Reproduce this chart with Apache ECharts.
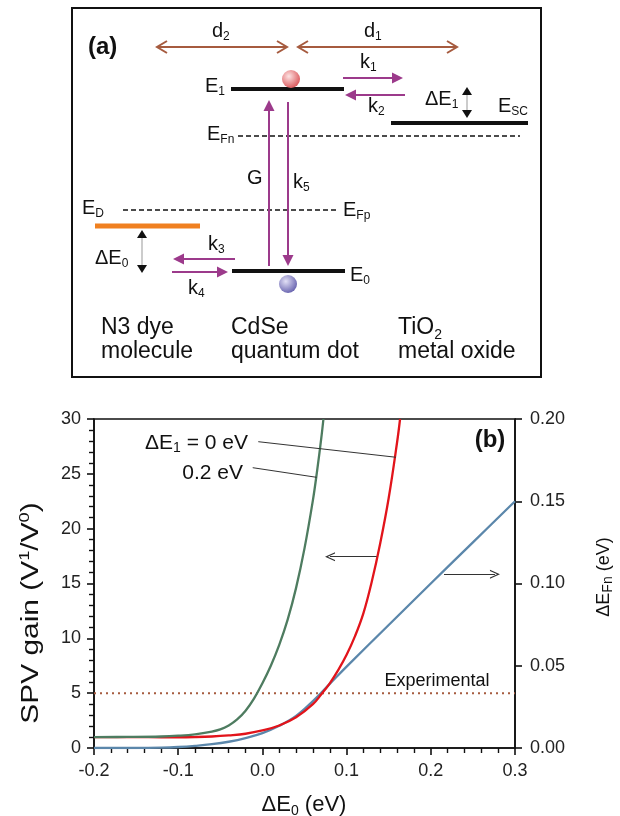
<!DOCTYPE html>
<html>
<head>
<meta charset="utf-8">
<script src="https://cdn.jsdelivr.net/npm/echarts@6/dist/echarts.min.js"></script>
<style>
  html, body { margin: 0; padding: 0; background: #fff; }
  #main { width: 620px; height: 816px; }
</style>
</head>
<body>
<div id="main"></div>
<script>
// ---- (b) SPV gain and quasi-Fermi level shift versus ΔE0 ----
// ΔE1 = 0 eV curve (left axis)
const dE0Zero = [-0.2, -0.15, -0.12, -0.1, -0.08, -0.06, -0.04, -0.02, 0, 0.02, 0.04, 0.06, 0.07, 0.08, 0.09, 0.1, 0.11, 0.12, 0.13, 0.14, 0.15, 0.16, 0.1635];
const gainZero = [1.0, 1.0, 0.98, 0.98, 1.0, 1.05, 1.15, 1.3, 1.6, 2.05, 2.8, 4.0, 4.9, 5.9, 7.1, 8.5, 10.2, 12.3, 15.2, 18.7, 22.8, 27.9, 30.0];
// ΔE1 = 0.2 eV curve (left axis)
const dE0Two = [-0.2, -0.16, -0.12, -0.1, -0.08, -0.06, -0.05, -0.04, -0.03, -0.02, -0.01, 0, 0.01, 0.02, 0.03, 0.04, 0.05, 0.06, 0.065, 0.07, 0.0725];
const gainTwo = [1.0, 1.01, 1.05, 1.12, 1.25, 1.5, 1.7, 2.05, 2.6, 3.4, 4.5, 5.9, 7.5, 9.4, 11.7, 14.6, 18.2, 22.6, 25.3, 28.3, 30.0];
// ΔE_Fn (right axis)
const dE0Fn = [-0.2, -0.15, -0.12, -0.1, -0.08, -0.06, -0.04, -0.02, 0, 0.02, 0.04, 0.06, 0.08, 0.1, 0.15, 0.2, 0.25, 0.3];
const shiftFn = [0, 0, 0.0002, 0.0006, 0.0013, 0.0023, 0.0038, 0.006, 0.009, 0.0135, 0.0195, 0.0285, 0.039, 0.0495, 0.0748, 0.1, 0.125, 0.15];
// measured SPV gain
const experimentalGain = 5;

const xTickLabels = ['-0.2', '-0.1', '0.0', '0.1', '0.2', '0.3'];
const leftTickLabels = ['0', '5', '10', '15', '20', '25', '30'];
const rightTickLabels = ['0.00', '0.05', '0.10', '0.15', '0.20'];

const X_MIN = -0.2, X_MAX = 0.3, X_STEP = 0.1;
const L_MIN = 0, L_MAX = 30, L_STEP = 5;
const R_MIN = 0, R_MAX = 0.2, R_STEP = 0.05;

const FONT = '"Liberation Sans", Arial, Helvetica, sans-serif';
const INK = '#111';
const PURPLE = '#9c3a8b';
const BROWN = '#a65b3f';

const zip = (xs, ys) => xs.map((x, i) => [x, ys[i]]);
const pick = (labels, min, step) => v => labels[Math.round((v - min) / step)] ?? '';

// leader lines and direction arrows, in data units
const leaderZero = [[-0.0049, 27.93], [0.1587, 26.51]];
const leaderTwo = [[-0.0115, 25.56], [0.0645, 24.68]];
const arrowLeft = [[0.1357, 17.44], [0.0803, 17.44]];
const arrowRight = [[0.2157, 0.1056], [0.2762, 0.1056]];
const CHEVRON = 'path://M0,10 L5,0 L10,10 L8.6,10 L5,2.8 L1.4,10 Z';

// ---- helpers for the level diagram ----
const rich = {
  s: { fontSize: 12, lineHeight: 12, verticalAlign: 'bottom', fill: INK, fontFamily: FONT },
  s2: { fontSize: 14, lineHeight: 14, verticalAlign: 'bottom', fill: INK, fontFamily: FONT },
  sup: { fontSize: 14, lineHeight: 14, verticalAlign: 'top', fill: INK, fontFamily: FONT }
};
function txt(x, y, text, size, extra) {
  return Object.assign({
    type: 'text', x: x, y: y, silent: true, z: 10,
    style: Object.assign({
      text: text, fill: INK, fontSize: size, fontFamily: FONT,
      lineHeight: Math.round(size * 1.2), align: 'left', verticalAlign: 'middle', rich: rich
    }, (extra && extra.style) || {})
  }, extra ? { rotation: extra.rotation || 0, scaleX: extra.scaleX || 1 } : {});
}
function seg(x1, y1, x2, y2, color, width, dash) {
  return {
    type: 'line', silent: true, z: 5,
    shape: { x1: x1, y1: y1, x2: x2, y2: y2 },
    style: { stroke: color, lineWidth: width, lineDash: dash || null }
  };
}
function head(tx, ty, ux, uy, len, half, color, filled) {
  const bx = tx - ux * len, by = ty - uy * len;
  const nx = -uy, ny = ux;
  const pts = [[bx + nx * half, by + ny * half], [tx, ty], [bx - nx * half, by - ny * half]];
  return filled
    ? { type: 'polygon', silent: true, z: 6, shape: { points: pts }, style: { fill: color } }
    : { type: 'polyline', silent: true, z: 6, shape: { points: pts }, style: { stroke: color, lineWidth: 2, fill: null } };
}
function arrow(x1, y1, x2, y2, color, opt) {
  const o = Object.assign({ width: 2, len: 11, half: 5.5, filled: true, both: false, midColor: null, midWidth: null }, opt || {});
  const L = Math.hypot(x2 - x1, y2 - y1), ux = (x2 - x1) / L, uy = (y2 - y1) / L;
  const out = [];
  const sx = o.both && o.filled ? x1 + ux * o.len * 0.8 : x1;
  const sy = o.both && o.filled ? y1 + uy * o.len * 0.8 : y1;
  const ex = o.filled ? x2 - ux * o.len * 0.8 : x2;
  const ey = o.filled ? y2 - uy * o.len * 0.8 : y2;
  out.push(seg(sx, sy, ex, ey, o.midColor || color, o.midWidth || o.width));
  out.push(head(x2, y2, ux, uy, o.len, o.half, color, o.filled));
  if (o.both) out.push(head(x1, y1, -ux, -uy, o.len, o.half, color, o.filled));
  return out;
}
function ball(cx, cy, light, dark) {
  return {
    type: 'circle', silent: true, z: 7,
    shape: { cx: cx, cy: cy, r: 9 },
    style: { fill: new echarts.graphic.RadialGradient(0.38, 0.35, 0.75, [
      { offset: 0, color: light }, { offset: 1, color: dark }]) }
  };
}

// ---- panel (a): energy level scheme ----
const diagram = [
  { type: 'rect', silent: true, z: 4, shape: { x: 72, y: 8, width: 469, height: 369 }, style: { stroke: INK, lineWidth: 2, fill: null } },
  txt(88, 47, '(a)', 24, { style: { fontWeight: 'bold' } }),
  // separations
  ...arrow(157, 47, 287, 47, BROWN, { filled: false, both: true, len: 10, half: 6 }),
  ...arrow(298, 47, 457, 47, BROWN, { filled: false, both: true, len: 10, half: 6 }),
  txt(212, 31, 'd{s|2}', 20),
  txt(364, 31, 'd{s|1}', 20),
  // levels
  seg(231, 89, 344, 89, INK, 4),
  seg(391, 123, 528, 123, INK, 4),
  seg(232, 271, 345, 271, INK, 4),
  seg(95, 226, 200, 226, '#f08020', 5),
  seg(238, 136, 520, 136, INK, 1.6, [5, 3]),
  seg(123, 210, 338, 210, INK, 1.6, [5, 3]),
  // transfer rates
  ...arrow(343, 78, 403, 78, PURPLE),
  ...arrow(405, 95, 345, 95, PURPLE),
  ...arrow(269, 266, 269, 100, PURPLE),
  ...arrow(288, 102, 288, 266, PURPLE),
  ...arrow(235, 259, 173, 259, PURPLE),
  ...arrow(172, 272, 228, 272, PURPLE),
  // offsets
  ...arrow(467, 87, 467, 118, INK, { both: true, len: 8, half: 5, midColor: '#999', midWidth: 1 }),
  ...arrow(142, 230, 142, 273, INK, { both: true, len: 8, half: 5, midColor: '#999', midWidth: 1 }),
  // carriers
  ball(291, 79, '#fde3e3', '#d84a4e'),
  ball(288, 284, '#e2e0f6', '#5c57a8'),
  // labels
  txt(205, 86, 'E{s|1}', 20),
  txt(425, 99, 'ΔE{s|1}', 20),
  txt(498, 106, 'E{s|SC}', 20),
  txt(207, 134, 'E{s|Fn}', 20),
  txt(343, 210, 'E{s|Fp}', 20),
  txt(82, 208, 'E{s|D}', 20),
  txt(95, 258, 'ΔE{s|0}', 20),
  txt(350, 275, 'E{s|0}', 20),
  txt(360, 62, 'k{s|1}', 20),
  txt(368, 106, 'k{s|2}', 20),
  txt(208, 244, 'k{s|3}', 20),
  txt(188, 288, 'k{s|4}', 20),
  txt(247, 178, 'G', 20),
  txt(293, 182, 'k{s|5}', 20),
  txt(101, 328, 'N3 dye', 23),
  txt(101, 352, 'molecule', 23),
  txt(231, 328, 'CdSe', 23),
  txt(231, 352, 'quantum dot', 23),
  txt(398, 328, 'TiO{s2|2}', 23),
  txt(398, 352, 'metal oxide', 23)
];

// ---- panel (b) texts ----
const chartTexts = [
  txt(248, 443, 'ΔE{s2|1} = 0 eV', 21, { style: { align: 'right' } }),
  txt(243, 473, '0.2 eV', 21, { style: { align: 'right' } }),
  txt(437, 681, 'Experimental', 18, { style: { align: 'center' } }),
  txt(490, 440, '(b)', 24, { style: { align: 'center', fontWeight: 'bold' } }),
  txt(32, 613, 'SPV gain (V{sup|1}/V{sup|0})', 23, { rotation: Math.PI / 2, scaleX: 1.3, style: { align: 'center' } }),
  txt(604, 577, 'ΔE{s2|Fn} (eV)', 18, { rotation: Math.PI / 2, style: { align: 'center' } }),
  txt(304, 805, 'ΔE{s2|0} (eV)', 22, { style: { align: 'center' } })
];

const axisLineStyle = { color: INK, width: 1.6 };
const labelStyle = { fontSize: 18, color: '#222', fontFamily: FONT };

const option = {
  animation: false,
  backgroundColor: '#fff',
  grid: { left: 94, right: 105, top: 419, bottom: 68, show: true, borderColor: INK, borderWidth: 1.6, backgroundColor: 'transparent' },
  xAxis: {
    type: 'value', min: X_MIN, max: X_MAX, interval: X_STEP,
    axisLine: { show: true, onZero: false, lineStyle: axisLineStyle },
    axisTick: { show: true, length: 7, lineStyle: { color: INK, width: 1.6 } },
    minorTick: { show: true, splitNumber: 5, length: 5, lineStyle: { color: INK, width: 1.4 } },
    splitLine: { show: false }, minorSplitLine: { show: false },
    axisLabel: Object.assign({ margin: 14, formatter: pick(xTickLabels, X_MIN, X_STEP) }, labelStyle)
  },
  yAxis: [
    {
      type: 'value', position: 'left', min: L_MIN, max: L_MAX, interval: L_STEP,
      axisLine: { show: true, onZero: false, lineStyle: axisLineStyle },
      axisTick: { show: true, length: 7, lineStyle: { color: INK, width: 1.6 } },
      minorTick: { show: true, splitNumber: 5, length: 5, lineStyle: { color: INK, width: 1.4 } },
      splitLine: { show: false }, minorSplitLine: { show: false },
      axisLabel: Object.assign({ margin: 13, formatter: pick(leftTickLabels, L_MIN, L_STEP) }, labelStyle)
    },
    {
      type: 'value', position: 'right', min: R_MIN, max: R_MAX, interval: R_STEP,
      axisLine: { show: true, onZero: false, lineStyle: axisLineStyle },
      axisTick: { show: true, length: 7, lineStyle: { color: INK, width: 1.6 } },
      splitLine: { show: false },
      axisLabel: Object.assign({ margin: 15, formatter: pick(rightTickLabels, R_MIN, R_STEP) }, labelStyle)
    }
  ],
  series: [
    {
      name: 'Experimental', type: 'line', yAxisIndex: 0, silent: true,
      data: [[X_MIN, experimentalGain], [X_MAX, experimentalGain]],
      showSymbol: false, lineStyle: { color: BROWN, width: 2, type: [2, 4] }, z: 1
    },
    {
      name: 'ΔE_Fn', type: 'line', yAxisIndex: 1, silent: true,
      data: zip(dE0Fn, shiftFn), showSymbol: false, smooth: 0.4,
      lineStyle: { color: '#5b87ab', width: 2.3 }, z: 2,
      markLine: {
        silent: true, animation: false, label: { show: false }, emphasis: { disabled: true },
        symbol: ['none', CHEVRON], symbolSize: [9, 10],
        lineStyle: { color: '#333', width: 1, type: 'solid' },
        data: [[{ coord: arrowRight[0] }, { coord: arrowRight[1] }]]
      }
    },
    {
      name: 'ΔE1 = 0 eV', type: 'line', yAxisIndex: 0, silent: true,
      data: zip(dE0Zero, gainZero), showSymbol: false, smooth: 0.4,
      lineStyle: { color: '#e2141b', width: 2.3 }, z: 3,
      markLine: {
        silent: true, animation: false, label: { show: false }, emphasis: { disabled: true },
        symbol: ['none', 'none'],
        lineStyle: { color: '#333', width: 1, type: 'solid' },
        data: [
          [{ coord: leaderZero[0] }, { coord: leaderZero[1] }],
          [{ coord: leaderTwo[0] }, { coord: leaderTwo[1] }],
          [{ coord: arrowLeft[0] }, { coord: arrowLeft[1], symbol: CHEVRON, symbolSize: [9, 10] }]
        ]
      }
    },
    {
      name: 'ΔE1 = 0.2 eV', type: 'line', yAxisIndex: 0, silent: true,
      data: zip(dE0Two, gainTwo), showSymbol: false, smooth: 0.4,
      lineStyle: { color: '#4e7c60', width: 2.3 }, z: 4
    }
  ],
  graphic: { elements: diagram.concat(chartTexts) }
};

const chart = echarts.init(document.getElementById('main'), null, { renderer: 'canvas' });
chart.setOption(option);
</script>
</body>
</html>
